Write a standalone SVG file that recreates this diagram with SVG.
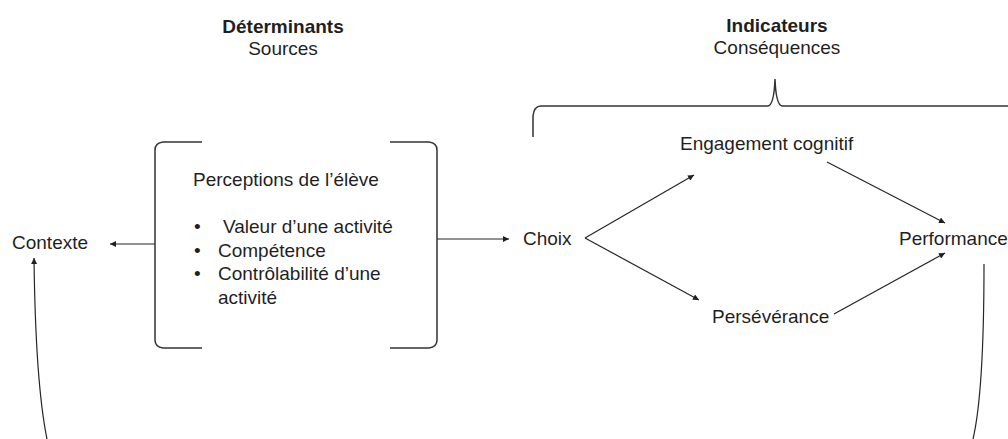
<svg xmlns="http://www.w3.org/2000/svg" width="1008" height="439" viewBox="0 0 1008 439">
  <defs>
    <style>
      text { font-family: "Liberation Sans", Arial, sans-serif; font-size: 19px; fill: #1f1f1f; }
      .b { font-weight: bold; }
      .mid { text-anchor: middle; }
      .ln { fill: none; stroke: #262626; stroke-width: 1.2; }
      .br { fill: none; stroke: #333333; stroke-width: 1.5; }
      .arr { marker-end: url(#ah); }
    </style>
    <marker id="ah" viewBox="0 0 10 10" refX="10" refY="5" markerWidth="7" markerHeight="6" markerUnits="userSpaceOnUse" orient="auto">
      <path d="M0,0 L10,5 L0,10 z" fill="#1f1f1f"/>
    </marker>
  </defs>
  <rect width="1008" height="439" fill="#ffffff"/>

  <g id="headers">
    <g id="determinants">
      <text class="b mid" x="283" y="33">Déterminants</text>
      <text class="mid" x="283" y="55">Sources</text>
    </g>
    <g id="indicateurs">
      <text class="b mid" x="777" y="32">Indicateurs</text>
      <text class="mid" x="777" y="54">Conséquences</text>
    </g>
  </g>

  <g id="top-brace">
    <path class="br" d="M533,137 L533,116 Q534,106 541,106 L768,106 Q774,105 775,79 Q776,105 782,106 L1010,106"/>
  </g>

  <g id="perceptions">
    <path class="br" d="M202,142 L163,142 Q155,143 155,150 L155,340 Q155,347 163,348 L202,348"/>
    <path class="br" d="M390,142 L429,142 Q437,143 437,150 L437,340 Q437,347 429,348 L390,348"/>
    <text x="193" y="186">Perceptions de l’élève</text>
    <text x="194" y="233">•</text>
    <text x="223" y="233">Valeur d’une activité</text>
    <text x="194" y="257">•</text>
    <text x="218" y="257">Compétence</text>
    <text x="194" y="280">•</text>
    <text x="218" y="280">Contrôlabilité d’une</text>
    <text x="218" y="304">activité</text>
  </g>

  <g id="contexte">
    <text x="12" y="249">Contexte</text>
  </g>
  <g id="choix">
    <text x="523" y="245">Choix</text>
  </g>
  <g id="engagement">
    <text x="680" y="150">Engagement cognitif</text>
  </g>
  <g id="perseverance">
    <text x="712" y="323">Persévérance</text>
  </g>
  <g id="performance">
    <text x="899" y="245">Performance</text>
  </g>

  <g id="connectors">
    <line class="ln arr" x1="155" y1="244" x2="110" y2="244"/>
    <line class="ln arr" x1="437" y1="239" x2="509" y2="239"/>
    <line class="ln arr" x1="585" y1="238" x2="694" y2="175"/>
    <line class="ln arr" x1="585" y1="238" x2="699" y2="300"/>
    <line class="ln arr" x1="827" y1="162" x2="945" y2="223"/>
    <line class="ln arr" x1="834" y1="314" x2="945" y2="253"/>
    <path class="ln arr" d="M47,439 C39,400 35,340 34,258"/>
    <path class="ln" d="M973,439 C981,405 984,350 984,264"/>
  </g>
</svg>
